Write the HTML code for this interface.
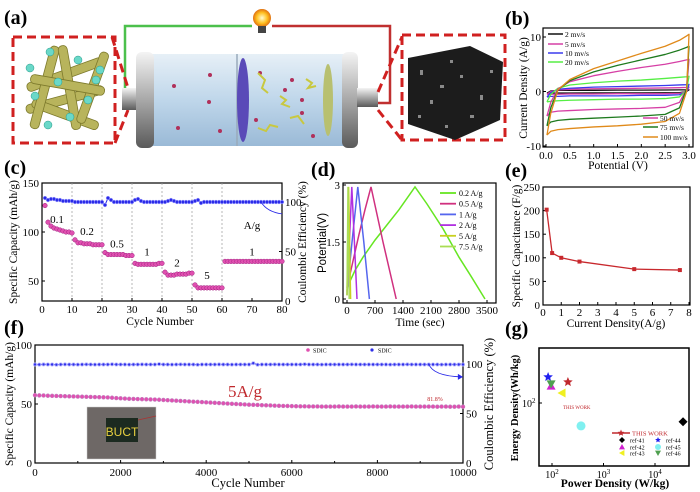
<!DOCTYPE html>
<html><head><meta charset="utf-8"><style>
html,body{margin:0;padding:0;background:#fff;}
svg{display:block;font-family:"Liberation Serif",serif;}
</style></head><body>
<svg id="fig" width="700" height="492" viewBox="0 0 700 492" xmlns="http://www.w3.org/2000/svg">
<defs>
<linearGradient id="bodyG" x1="0" y1="0" x2="0" y2="1"><stop offset="0" stop-color="#e4eef6"/><stop offset="0.5" stop-color="#b8d2e8"/><stop offset="1" stop-color="#8fb2d2"/></linearGradient>
<linearGradient id="capG" x1="0" y1="0" x2="0" y2="1"><stop offset="0" stop-color="#f4f4f4"/><stop offset="0.5" stop-color="#a8a8a8"/><stop offset="1" stop-color="#5a5a5a"/></linearGradient>
<radialGradient id="bulbG"><stop offset="0" stop-color="#fffbd0"/><stop offset="0.6" stop-color="#ffc020"/><stop offset="1" stop-color="#e07010"/></radialGradient>
</defs>

<!-- Panel a -->
<g>
<text x="4" y="24" font-size="20" font-weight="bold">(a)</text>
<polyline points="123,103 125,103 125,26 252,26" fill="none" stroke="#4cc04c" stroke-width="2.5"/>
<polyline points="272,26 390,26 390,103 378,103" fill="none" stroke="#c03030" stroke-width="2.5"/>
<circle cx="262" cy="18" r="9" fill="url(#bulbG)"/>
<rect x="258" y="26" width="8" height="7" fill="#444"/>
<rect x="13" y="37" width="102" height="106" fill="none" stroke="#d02020" stroke-width="3" stroke-dasharray="9 5"/>
<line x1="112" y1="37" x2="128" y2="88" stroke="#d02020" stroke-width="3" stroke-dasharray="9 5"/>
<line x1="115" y1="143" x2="128" y2="110" stroke="#d02020" stroke-width="3" stroke-dasharray="9 5"/>
<g stroke="#7d7a2c" stroke-width="0.8" fill="#b8b45c">
<rect x="25" y="70" width="80" height="9" rx="4" transform="rotate(-20 65 75)"/>
<rect x="25" y="95" width="80" height="9" rx="4" transform="rotate(-15 65 100)"/>
<rect x="30" y="110" width="70" height="9" rx="4" transform="rotate(20 65 115)"/>
<rect x="40" y="45" width="9" height="85" rx="4" transform="rotate(15 45 88)"/>
<rect x="65" y="45" width="9" height="85" rx="4" transform="rotate(-10 70 88)"/>
<rect x="88" y="50" width="9" height="75" rx="4" transform="rotate(20 92 88)"/>
<rect x="30" y="80" width="75" height="9" rx="4" transform="rotate(10 65 85)"/>
</g>
<g fill="#6ad8c8" stroke="#2a9a8a" stroke-width="0.5">
<circle cx="30" cy="68" r="4"/><circle cx="50" cy="52" r="4"/><circle cx="78" cy="60" r="4"/><circle cx="100" cy="70" r="4"/>
<circle cx="35" cy="96" r="4"/><circle cx="58" cy="82" r="4"/><circle cx="88" cy="100" r="4"/><circle cx="48" cy="125" r="4"/><circle cx="70" cy="117" r="4"/><circle cx="96" cy="80" r="4"/>
</g>
<rect x="122" y="88" width="18" height="22" fill="url(#capG)"/>
<rect x="145" y="54" width="205" height="92" rx="6" fill="url(#bodyG)" opacity="0.9"/>
<rect x="136" y="52" width="18" height="96" rx="6" fill="url(#capG)"/>
<rect x="342" y="52" width="16" height="96" rx="6" fill="url(#capG)"/>
<rect x="357" y="88" width="21" height="19" fill="url(#capG)"/>
<line x1="237" y1="54" x2="237" y2="146" stroke="#9ab" stroke-width="1.5"/>
<ellipse cx="243" cy="100" rx="6" ry="42" fill="#5a4ab8"/>
<ellipse cx="328" cy="100" rx="5" ry="36" fill="#b8c070"/>
<g fill="#b0305a">
<circle cx="210" cy="75" r="2"/><circle cx="174" cy="86" r="2"/><circle cx="209" cy="102" r="2"/><circle cx="220" cy="131" r="2"/><circle cx="178" cy="128" r="2"/>
<circle cx="260" cy="73" r="2"/><circle cx="292" cy="80" r="2"/><circle cx="302" cy="100" r="2"/><circle cx="256" cy="120" r="2"/><circle cx="302" cy="113" r="2"/><circle cx="313" cy="136" r="2"/><circle cx="285" cy="90" r="2"/>
</g>
<g fill="none" stroke="#c8c840" stroke-width="2">
<polyline points="258,73 265,80 262,88 268,93"/><polyline points="280,96 286,100 282,104 290,107"/><polyline points="258,128 266,131 270,125 278,127"/><polyline points="306,79 312,83 308,88 316,86"/><polyline points="290,118 298,116 304,124"/>
</g>
<rect x="402" y="35" width="103" height="105" fill="none" stroke="#d02020" stroke-width="3" stroke-dasharray="9 5"/>
<line x1="378" y1="92" x2="402" y2="37" stroke="#d02020" stroke-width="3" stroke-dasharray="9 5"/>
<line x1="378" y1="110" x2="402" y2="140" stroke="#d02020" stroke-width="3" stroke-dasharray="9 5"/>
<polygon points="408,58 470,46 503,62 500,120 455,140 408,124" fill="#1c1c1c"/>
<g fill="#8a8a8a">
<rect x="420" y="70" width="3" height="5"/><rect x="440" y="85" width="4" height="3"/><rect x="430" y="100" width="3" height="4"/><rect x="460" y="75" width="3" height="3"/><rect x="480" y="95" width="3" height="5"/><rect x="470" y="115" width="4" height="3"/><rect x="450" y="60" width="3" height="3"/><rect x="490" y="70" width="3" height="3"/><rect x="418" y="115" width="3" height="3"/><rect x="445" y="125" width="3" height="3"/>
</g>
</g>

<!-- static panel frames and labels -->
<text x="505" y="25" font-size="20" font-weight="bold">(b)</text>
<rect x="543" y="28" width="150" height="119" fill="none" stroke="#000" stroke-width="1.2"/>
<text x="0" y="0" font-size="11.5" text-anchor="middle" transform="translate(527,88) rotate(-90)">Current Density (A/g)</text>
<text x="618" y="169" font-size="11.5" text-anchor="middle">Potential (V)</text>

<text x="4" y="174" font-size="20" font-weight="bold">(c)</text>
<rect x="42" y="183" width="240" height="118" fill="none" stroke="#000" stroke-width="1.2"/>
<text font-size="11.5" text-anchor="middle" transform="translate(17,242) rotate(-90)">Specific Capacity (mAh/g)</text>
<text font-size="11.5" text-anchor="middle" transform="translate(306,242) rotate(-90)">Coulombic Efficiency (%)</text>
<text x="160" y="325" font-size="11.5" text-anchor="middle">Cycle Number</text>

<text x="311" y="176" font-size="20" font-weight="bold">(d)</text>
<rect x="343" y="183" width="153" height="120" fill="none" stroke="#000" stroke-width="1.2"/>
<text font-size="11.5" text-anchor="middle" transform="translate(326,243) rotate(-90)" font-family="Liberation Sans, sans-serif">Potential(V)</text>
<text x="420" y="326" font-size="11.5" text-anchor="middle">Time (sec)</text>

<text x="505" y="177" font-size="20" font-weight="bold">(e)</text>
<rect x="543" y="187" width="147" height="118" fill="none" stroke="#000" stroke-width="1.2"/>
<text font-size="11.5" text-anchor="middle" transform="translate(520,246) rotate(-90)">Specific Capacitance (F/g)</text>
<text x="616" y="327" font-size="11.5" text-anchor="middle">Current Density(A/g)</text>

<text x="4" y="334" font-size="20" font-weight="bold">(f)</text>
<rect x="35" y="345" width="428" height="118" fill="none" stroke="#000" stroke-width="1.2"/>
<text font-size="11.5" text-anchor="middle" transform="translate(13,404) rotate(-90)">Specific Capacity (mAh/g)</text>
<text font-size="12.5" text-anchor="middle" transform="translate(493,404) rotate(-90)">Coulombic Efficiency (%)</text>
<text x="248" y="487" font-size="12.5" text-anchor="middle">Cycle Number</text>
<text x="245" y="397" font-size="17" fill="#c0282d" text-anchor="middle">5A/g</text>
<text x="435" y="401" font-size="6" fill="#c0282d" text-anchor="middle">81.8%</text>
<g>
<rect x="87" y="407" width="69" height="52" fill="#6e6866" stroke="#ccc" stroke-width="0.5"/>
<rect x="106" y="418" width="32" height="24" fill="#1c2a20"/>
<line x1="138" y1="420" x2="156" y2="416" stroke="#a33" stroke-width="0.8"/>
<text x="122" y="436" font-size="12" font-family="Liberation Sans, sans-serif" fill="#e8d040" text-anchor="middle">BUCT</text>
</g>

<text x="505" y="335" font-size="20" font-weight="bold">(g)</text>
<rect x="539" y="348" width="150" height="118" fill="none" stroke="#000" stroke-width="1.5"/>
<text font-size="10.5" font-weight="bold" text-anchor="middle" transform="translate(518,408) rotate(-90)">Energy Density(Wh/kg)</text>
<text x="615" y="487" font-size="11.5" font-weight="bold" text-anchor="middle">Power Density (W/kg)</text>
<text x="563" y="409" font-size="5" fill="#c0282d">THIS WORK</text>
</svg>
<script>
const NS='http://www.w3.org/2000/svg';
const svg=document.getElementById('fig');
function mk(tag,name){const el=document.createElementNS(NS,tag);


svg.appendChild(el);return el;}
function set(el,o){for(const k in o)el.setAttribute(k,o[k]);return el;}
function lin(d0,d1,r0,r1){return v=>r0+(v-d0)*(r1-r0)/(d1-d0);}
function txt(x,y,s,size,anchor,name,fill){const t=mk('text',name);set(t,{x:x,y:y,'font-size':size,'text-anchor':anchor||'middle',fill:fill||'#000'});t.textContent=s;return t;}

/* ---------- Panel b data ---------- */
const cvRates=['2 mv/s','5 mv/s','10 mv/s','20 mv/s','50 mv/s','75 mv/s','100 mv/s'];
const cvColors=['#111','#d63fa5','#3a3aee','#55ee44','#d63fa5','#1e7a1e','#e08a1a'];
const cvV=[0.02,0.1,0.25,0.5,1.0,1.5,2.0,2.5,2.8,2.95,3.0];
const cvUpper=[
[-0.3,0.1,0.2,0.2,0.22,0.25,0.25,0.27,0.3,0.3,0.3],
[-0.5,0,0.3,0.4,0.5,0.55,0.6,0.65,0.7,0.75,0.8],
[-1.0,-0.2,0.4,0.6,0.8,0.9,1.0,1.1,1.2,1.25,1.3],
[-1.9,-0.5,0.6,1.2,1.6,1.9,2.1,2.4,2.6,2.7,2.8],
[-4.5,-2,0.5,1.8,2.9,3.7,4.4,5.0,5.5,5.8,5.9],
[-6.3,-3,0.3,2.0,3.6,4.8,5.8,6.8,7.6,8.1,8.3],
[-8,-4,0.3,2.2,4.2,5.6,7.0,8.3,9.4,10.2,10.5]];
const cvLower=[
[-0.3,-0.3,-0.28,-0.27,-0.26,-0.25,-0.25,-0.24,-0.2,0,0.3],
[-0.5,-0.5,-0.5,-0.45,-0.45,-0.4,-0.4,-0.4,-0.35,0,0.8],
[-1.0,-0.9,-0.9,-0.8,-0.8,-0.8,-0.7,-0.7,-0.6,0,1.3],
[-1.9,-1.8,-1.7,-1.6,-1.5,-1.4,-1.4,-1.3,-1.0,0.3,2.8],
[-4.5,-3.8,-3.6,-3.5,-3.3,-3.2,-3.1,-2.9,-2.0,0.5,5.9],
[-6.3,-5.6,-5.3,-5.1,-4.9,-4.7,-4.5,-4.2,-3,0.5,8.3],
[-8,-7.3,-7.0,-6.8,-6.5,-6.3,-6.0,-5.5,-4.0,0,10.5]];
const cvXTicks=[0,0.5,1.0,1.5,2.0,2.5,3.0];
const cvYTicks=[-10,0,10];

/* ---------- Panel c data ---------- */
const rateCap=[127,110,106,104,103,102,101,100,100,99, 92,89,89,88,88,88,87,87,87,87, 79,77,77,77,77,77,77,76,76,76, 68,67,67,67,67,67,67,67,68,68, 59,56,56,56,57,57,57,57,58,58, 46,43,43,43,43,43,43,43,43,43, 70,70,70,70,70,70,70,70,70,70,70,70,70,70,70,70,70,70,70,70];
const rateCE=[104,102,103,103,102,102,101,101,101,101, 100,100,100,100,100,100,100,100,100,100, 97,104,102,100,100,100,100,100,100,100, 102,103,101,100,100,100,100,100,100,100, 100,101,102,101,100,100,100,100,100,100, 101,102,99,100,100,100,100,100,100,100, 100,100,100,100,100,100,100,100,100,100,100,100,100,100,100,100,100,100,100,100];
const rateLabels=['0.1','0.2','0.5','1','2','5','1'];
const rateLabelCycle=[5,15,25,35,45,55,70];
const rateLabelCap=[109,97,84,76,65,52,76];
const cXTicks=[0,10,20,30,40,50,60,70,80];
const cYTicks=[50,100,150];
const cY2Ticks=[0,50,100];

/* ---------- Panel d data ---------- */
const gcdRates=['0.2 A/g','0.5 A/g','1 A/g','2 A/g','5 A/g','7.5 A/g'];
const gcdColors=['#66e622','#d0307f','#5566ee','#b030e0','#c8d020','#aadd55'];
const gcdT=[[0,200,400,700,1000,1300,1700,2000,2400,2800,3100,3450],[0,150,300,450,600,900,1230],[0,135,270,420,560],[0,60,120,185,250],[0,40,90],[0,25,55]];
const gcdV=[[0.3,0.75,1.1,1.55,1.95,2.35,2.95,2.5,1.85,1.1,0.6,0],[0.3,1.0,1.7,2.35,2.95,1.5,0],[0.2,1.6,2.95,1.5,0],[0.1,1.5,2.95,1.5,0],[0.1,2.95,0],[0.1,2.95,0]];
const dXTicks=[0,700,1400,2100,2800,3500];
const dYTicks=[0,1.5,3];

/* ---------- Panel e data ---------- */
const capCurrent=[0.2,0.5,1,2,5,7.5];
const capValue=[202,110,100,92,76,74];
const eXTicks=[0,1,2,3,4,5,6,7,8];
const eYTicks=[0,50,100,150,200,250];

/* ---------- Panel f data (every 100 cycles) ---------- */
const longCap=[57.5,57.3,57.2,57.0,56.9,56.8,56.7,56.6,56.5,56.4,56.3,
56.2,56.1,56.0,55.9,55.8,55.7,55.6,55.3,55.0,54.8,
54.6,54.4,54.3,54.2,54.1,54.0,53.9,53.8,53.6,53.4,
53.2,53.0,52.8,52.6,52.4,52.2,52.0,51.8,51.6,51.4,
51.2,51.0,50.8,50.6,50.4,50.2,50.0,49.8,49.6,49.4,
49.3,49.2,49.0,48.9,48.8,48.6,48.5,48.4,48.3,48.2,
48.1,48.0,48.0,47.9,47.9,47.9,47.8,47.8,47.8,47.8,
47.9,47.8,47.8,47.8,47.9,47.8,47.8,47.8,47.9,47.8,
47.8,47.8,47.9,47.8,47.8,47.8,47.8,47.9,47.8,47.8,
47.8,47.8,47.8,47.7,47.8,47.8,47.7,47.7,47.8,47.7];
const longCE=[99.5,99.4,99.6,99.5,99.5,99.3,99.5,99.6,99.5,99.5,99.4,
99.5,99.6,99.5,99.4,99.5,99.5,99.5,99.7,99.5,99.5,
99.5,99.4,99.5,99.5,99.6,99.5,99.5,99.5,99.9,99.5,
99.5,99.4,99.5,99.6,99.5,99.5,99.5,99.3,99.5,99.5,
99.5,99.5,99.6,99.5,99.5,99.4,99.5,99.5,99.5,99.5,
100.8,99.3,99.5,99.5,99.5,99.6,99.5,99.5,99.5,99.5,
99.5,99.5,99.8,99.5,99.5,99.5,99.4,99.5,99.5,99.5,
99.5,99.5,99.5,99.6,99.5,99.5,99.5,99.5,99.5,99.5,
99.5,99.5,99.4,99.5,99.5,99.5,99.6,99.5,99.5,99.5,
99.5,99.5,99.5,99.5,99.4,99.5,99.5,99.5,99.5,99.5];
const fXTicks=[0,2000,4000,6000,8000,10000];
const fYTicks=[0,50,100];
const fY2Ticks=[0,50,100];

/* ---------- Panel g data ---------- */
const ragNames=['THIS WORK','ref-41','ref-42','ref-43','ref-44','ref-45','ref-46'];
const ragPower=[204,35000,96,156,84,366,96];
const ragEnergy=[162,65,148,126,182,59,155];
const ragColors=['#c0282d','#000','#d020d0','#f0f020','#2020f0','#80f0f0','#50a050'];
const ragShapes=['star','diamond','up','left','star','hex','down'];

/* ---------- generic axis helper ---------- */
function ticksX(vals,xf,y0,labelY,prefix,fmt,inward){vals.forEach(v=>{const l=mk('line',prefix+'-x-tick');set(l,{x1:xf(v),x2:xf(v),y1:y0,y2:y0-(inward||3),stroke:'#000','stroke-width':1});
const t=txt(xf(v),labelY,fmt?fmt(v):String(v),11,'middle',prefix+'-x-tick-label');});}
function ticksY(vals,yf,x0,labelX,prefix,fmt,dir,anchor){vals.forEach(v=>{const l=mk('line',prefix+'-y-tick');set(l,{x1:x0,x2:x0+(dir||3),y1:yf(v),y2:yf(v),stroke:'#000','stroke-width':1});
txt(labelX,yf(v)+4,fmt?fmt(v):String(v),11,anchor||'end',prefix+'-y-tick-label');});}

/* ---------- Panel b ---------- */
(function(){const x=lin(0,3,546,689),y=lin(-10,10,146,37);
ticksX(cvXTicks,x,147,159,'panel-b',v=>v.toFixed(1));
ticksY(cvYTicks,y,543,541,'panel-b');
cvRates.forEach((r,i)=>{const p=mk('polyline','cv-curve-'+r.replace(/[^0-9]/g,'')+'mvs');
const pts=cvV.map((v,k)=>x(v)+','+y(cvUpper[i][k]));
for(let k=cvV.length-1;k>=0;k--)pts.push(x(cvV[k])+','+y(cvLower[i][k]));
set(p,{points:pts.join(' '),fill:'none',stroke:cvColors[i],'stroke-width':1.3,'stroke-linejoin':'round'});});
const legY=[34,44,53,62,118,127,137];
cvRates.forEach((r,i)=>{const lx=i<4?548:643;const l=mk('line','cv-legend-line');set(l,{x1:lx,x2:lx+15,y1:legY[i],y2:legY[i],stroke:cvColors[i],'stroke-width':1.5});
txt(lx+17,legY[i]+3,r,7.5,'start','cv-legend-text');});})();

/* ---------- Panel c ---------- */
(function(){const x=lin(0,80,42,282),y=lin(50,150,281,183),y2=lin(0,100,301,202);
[10,20,30,40,50,60].forEach(v=>{const l=mk('line','panel-c-rate-divider');set(l,{x1:x(v),x2:x(v),y1:183,y2:301,stroke:'#999','stroke-width':0.7,'stroke-dasharray':'2 2'});});
ticksX(cXTicks,x,301,313,'panel-c');
ticksY(cYTicks,y,42,39,'panel-c');
ticksY(cY2Ticks,y2,282,285,'panel-c-right',null,-3,'start');
const pl=mk('polyline','coulombic-efficiency-line');
set(pl,{points:rateCE.map((v,i)=>x(i+1)+','+y2(v)).join(' '),fill:'none',stroke:'#2a2ae8','stroke-width':1});
rateCE.forEach((v,i)=>{const c=mk('circle','coulombic-efficiency-point');set(c,{cx:x(i+1),cy:y2(v),r:1.8,fill:'#2a2ae8',stroke:'#a0a0ff','stroke-width':0.6});});
rateCap.forEach((v,i)=>{const c=mk('circle','capacity-point');set(c,{cx:x(i+1),cy:y(v),r:2.3,fill:'#e050b0',stroke:'#a02080','stroke-width':0.5});});
rateLabels.forEach((s,i)=>txt(x(rateLabelCycle[i]),y(rateLabelCap[i]),s,11,'middle','rate-label'));
txt(x(70),y(103),'A/g',11,'middle','rate-unit-label');
const a=mk('path','ce-axis-arrow');set(a,{d:`M${x(73)},${y2(100)} Q${x(75)},${y2(90)} ${x(80)},${y2(88)}`,fill:'none',stroke:'#2a2ae8','stroke-width':0.8});})();

/* ---------- Panel d ---------- */
(function(){const x=lin(0,3500,347,487),y=lin(0,3,299,185);
ticksX(dXTicks,x,303,314,'panel-d');
ticksY(dYTicks,y,343,340,'panel-d',v=>String(v));
gcdRates.forEach((r,i)=>{const p=mk('polyline','gcd-curve');set(p,{points:gcdT[i].map((t,k)=>x(t)+','+y(gcdV[i][k])).join(' '),fill:'none',stroke:gcdColors[i],'stroke-width':1.5});});
gcdRates.forEach((r,i)=>{const ly=193+i*10.7;const l=mk('line','gcd-legend-line');set(l,{x1:440,x2:456,y1:ly,y2:ly,stroke:gcdColors[i],'stroke-width':1.8});
txt(459,ly+3,r,8,'start','gcd-legend-text');});})();

/* ---------- Panel e ---------- */
(function(){const x=lin(0,8,543,689),y=lin(0,250,305,187);
ticksX(eXTicks,x,305,316,'panel-e');
ticksY(eYTicks,y,543,540,'panel-e');
const p=mk('polyline','capacitance-line');set(p,{points:capCurrent.map((c,i)=>x(c)+','+y(capValue[i])).join(' '),fill:'none',stroke:'#c8282d','stroke-width':1.3});
capCurrent.forEach((c,i)=>{const m=mk('rect','capacitance-point');set(m,{x:x(c)-2,y:y(capValue[i])-2,width:4,height:4,fill:'#c8282d'});});})();

/* ---------- Panel f ---------- */
(function(){const x=lin(0,10000,35,463),y=lin(0,100,463,345),y2=lin(0,100,463,364);
ticksX(fXTicks,x,463,476,'panel-f');
[1000,3000,5000,7000,9000].forEach(v=>{const l=mk('line','panel-f-minor-tick');set(l,{x1:x(v),x2:x(v),y1:463,y2:461,stroke:'#000'});});
ticksY(fYTicks,y,35,32,'panel-f');
ticksY(fY2Ticks,y2,463,466,'panel-f-right',null,-3,'start');
const pl=mk('polyline','long-cycle-ce-line');set(pl,{points:longCE.map((v,i)=>x(i*100)+','+y2(v)).join(' '),fill:'none',stroke:'#2a2ae8','stroke-width':1.2});
longCE.forEach((v,i)=>{const c=mk('circle','long-cycle-ce-point');set(c,{cx:x(i*100),cy:y2(v),r:1.6,fill:'#3030e8',stroke:'#b8b8ff','stroke-width':0.8});});
longCap.forEach((v,i)=>{const c=mk('circle','long-cycle-capacity-point');set(c,{cx:x(i*100),cy:y(v),r:1.9,fill:'#e050b0',stroke:'#c080c0','stroke-width':0.6});});
const a=mk('path','long-cycle-ce-arrow');set(a,{d:`M${x(9200)},${y2(100)} Q${x(9300)},${y2(88)} ${x(9950)},${y2(87)}`,fill:'none',stroke:'#2a2ae8','stroke-width':0.9});
const ah=mk('polygon','long-cycle-ce-arrowhead');set(ah,{points:`${x(10000)},${y2(87)} ${x(9880)},${y2(90)} ${x(9880)},${y2(84)}`,fill:'#2a2ae8'});
const d1=mk('circle','legend-capacity-marker');set(d1,{cx:308,cy:350,r:1.8,fill:'#e050b0'});
txt(313,352.5,'SDIC',6,'start','legend-capacity-text');
const d2=mk('circle','legend-ce-marker');set(d2,{cx:372,cy:350,r:1.6,fill:'#3030e8'});
txt(378,352.5,'SDIC',6,'start','legend-ce-text');})();

/* ---------- Panel g ---------- */
function marker(shape,cx,cy,s,color,name){let el;
if(shape==='star'){el=mk('polygon',name);const pts=[];for(let k=0;k<10;k++){const r=k%2?s*0.45:s;const a=-Math.PI/2+k*Math.PI/5;pts.push((cx+r*Math.cos(a)).toFixed(1)+','+(cy+r*Math.sin(a)).toFixed(1));}set(el,{points:pts.join(' ')});}
else if(shape==='diamond'){el=mk('polygon',name);set(el,{points:`${cx},${cy-s} ${cx+s},${cy} ${cx},${cy+s} ${cx-s},${cy}`});}
else if(shape==='up'){el=mk('polygon',name);set(el,{points:`${cx},${cy-s} ${cx+s},${cy+s*0.8} ${cx-s},${cy+s*0.8}`});}
else if(shape==='down'){el=mk('polygon',name);set(el,{points:`${cx},${cy+s} ${cx+s},${cy-s*0.8} ${cx-s},${cy-s*0.8}`});}
else if(shape==='left'){el=mk('polygon',name);set(el,{points:`${cx-s},${cy} ${cx+s*0.8},${cy-s} ${cx+s*0.8},${cy+s}`});}
else {el=mk('circle',name);set(el,{cx:cx,cy:cy,r:s});}
set(el,{fill:color});return el;}
(function(){const x=v=>552+51.5*(Math.log10(v)-2),y=v=>403-100*Math.log10(v/100);
[100,1000,10000].forEach((v,i)=>{const l=mk('line','panel-g-x-tick');set(l,{x1:x(v),x2:x(v),y1:466,y2:463,stroke:'#000'});
const t=mk('text','panel-g-x-tick-label');set(t,{x:x(v),y:478,'font-size':10,'text-anchor':'middle'});t.textContent='10';
const sp=mk('tspan','panel-g-x-tick-exponent');set(sp,{dy:-4,'font-size':7});sp.textContent=String(i+2);t.appendChild(sp);});
const l=mk('line','panel-g-y-tick');set(l,{x1:539,x2:542,y1:y(100),y2:y(100),stroke:'#000'});
const t=mk('text','panel-g-y-tick-label');set(t,{x:522,y:y(100)+4,'font-size':10});t.textContent='10';
const sp=mk('tspan','panel-g-y-tick-exponent');set(sp,{dy:-4,'font-size':7});sp.textContent='2';t.appendChild(sp);
ragNames.forEach((n,i)=>{const s=ragShapes[i]==='hex'?4.5:(ragShapes[i]==='star'?5:4.5);marker(ragShapes[i],x(ragPower[i]),y(ragEnergy[i]),s,ragColors[i],'ragone-point');});
const ll=mk('line','ragone-legend-line');set(ll,{x1:612,x2:630,y1:433,y2:433,stroke:'#c0282d','stroke-width':1.5});
marker('star',621,433,3.5,'#c0282d','ragone-legend-marker');
txt(632,435.5,'THIS WORK',6.5,'start','ragone-legend-text','#c0282d');
const legPos=[[622,440],[622,447],[622,453],[658,440],[658,447],[658,453]];
for(let i=1;i<ragNames.length;i++){const p=legPos[i-1];marker(ragShapes[i],p[0],p[1],3,ragColors[i],'ragone-legend-marker');
txt(p[0]+8,p[1]+2.5,ragNames[i],6,'start','ragone-legend-text');}})();
</script>
</body></html>
